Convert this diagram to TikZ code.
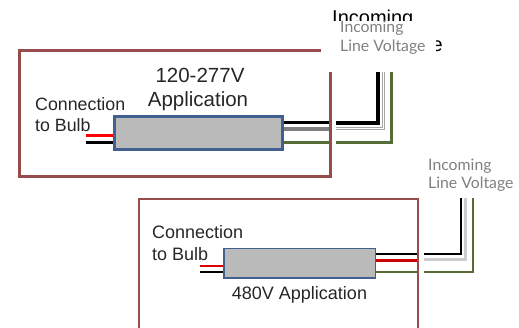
\documentclass[tikz,border=0pt]{standalone}
\usepackage{fontspec}
\setmainfont{Liberation Sans}
\newfontfamily\notefont{Lato}
\definecolor{framered}{HTML}{974B4B}
\definecolor{driverblue}{HTML}{41608F}
\definecolor{wiregreen}{HTML}{566B35}
\tikzset{
	frame/.style={draw=framered,line width=#1},
	driver/.style={draw=driverblue,fill=black!27,anchor=north west,inner sep=0pt},
	caption/.style={inner sep=0pt,align=left,text=black!85},
	note/.style={inner sep=0pt,anchor=west,text=black!50,font=\notefont\fontsize{15.8}{18}\selectfont},
}
\begin{document}
\begin{tikzpicture}[x=1pt,y=-1pt]
				\useasboundingbox (0,0) rectangle (519,328);
				% upper panel
				\node[inner sep=0pt,anchor=north west,font=\fontsize{20}{23}\selectfont] (IncomingA) at (332,10) {Incoming};
				\node[inner sep=0pt,anchor=east,font=\fontsize{20}{23}\selectfont] (LineA) at (443,46) {Line Voltage};
				\draw[frame=3pt] (19,51) rectangle (330,177);
				\fill[white] (321,21) rectangle (436,72);
				\node[note] (NoteA) at (340,28) {Incoming};
				\node[note] (NoteB) at (340,47) {Line Voltage};
				\node[driver,line width=3pt,minimum width=168pt,minimum height=33pt] (DriverA) at (113,115) {};
				\node[caption,font=\fontsize{20.5}{23}\selectfont] (TitleA) at (200,75) {120-277V};
				\node[caption,font=\fontsize{20.5}{23}\selectfont] (TitleB) at (198,101) {Application};
				\node[caption,anchor=west,font=\fontsize{17.8}{21}\selectfont] (BulbA) at (35,104) {Connection};
				\node[caption,anchor=west,font=\fontsize{17.8}{21}\selectfont] (BulbB) at (35,125) {to Bulb};
				\coordinate (R_1) at (86,136);
				\coordinate (K_1) at (86,143);
				\coordinate (K_2) at (329,123);
				\coordinate (K_3) at (336,123);
				\coordinate (K_4) at (378,72);
				\coordinate (W_2) at (329,129);
				\coordinate (W_3) at (336,127);
				\coordinate (W_4) at (382,72);
				\coordinate (W_5) at (336,129.5);
				\coordinate (W_6) at (384.5,72);
				\coordinate (G_2) at (329,143);
				\coordinate (G_3) at (336,143);
				\coordinate (G_4) at (391,72);
				\draw[red,line width=3pt] (R_1) -- (R_1 -| DriverA.west);
				\draw[line width=3pt] (K_1) -- (K_1 -| DriverA.west);
				\draw[line width=3pt] (K_2 -| DriverA.east) -- (K_2);
				\draw[black!50,line width=3.5pt] (W_2 -| DriverA.east) -- (W_2);
				\draw[wiregreen,line width=3pt] (G_2 -| DriverA.east) -- (G_2);
				\draw[line width=3.5pt] (K_3) -| (K_4);
				\draw[black!35,line width=.7pt] (W_3) -| (W_4);
				\draw[black!35,line width=.7pt] (W_5) -| (W_6);
				\draw[wiregreen,line width=3pt] (G_3) -| (G_4);
				% lower panel
				\draw[frame=2pt] (139,328) |- (418,199) -- (418,328);
				\node[driver,line width=1.5pt,minimum width=151.5pt,minimum height=29.5pt] (DriverB) at (223,248) {};
				\node[caption,anchor=west,font=\fontsize{18}{21}\selectfont] (BulbC) at (152,232) {Connection};
				\node[caption,anchor=west,font=\fontsize{18}{21}\selectfont] (BulbD) at (152,254) {to Bulb};
				\node[caption,font=\fontsize{18}{21}\selectfont] (TitleC) at (299.5,295) {480V Application};
				\node[note] (NoteC) at (428,166) {Incoming};
				\node[note] (NoteD) at (428,184) {Line Voltage};
				\coordinate (R_5) at (200,266);
				\coordinate (K_5) at (200,272);
				\coordinate (K_6) at (417,254);
				\coordinate (K_7) at (424,254);
				\coordinate (K_8) at (461,198);
				\coordinate (R_6) at (417,261);
				\coordinate (W_7) at (424,260);
				\coordinate (W_8) at (465,198);
				\coordinate (G_6) at (417,272);
				\coordinate (G_7) at (424,272);
				\coordinate (G_8) at (473,198);
				\draw[red!85!black,line width=2pt] (R_5) -- (R_5 -| DriverB.west);
				\draw[line width=2.5pt] (K_5) -- (K_5 -| DriverB.west);
				\draw[line width=2.5pt] (K_6 -| DriverB.east) -- (K_6);
				\draw[red!80!black,line width=3pt] (R_6 -| DriverB.east) -- (R_6);
				\draw[wiregreen,line width=2.5pt] (G_6 -| DriverB.east) -- (G_6);
				\draw[line width=2.5pt] (K_7) -| (K_8);
				\draw[black!20,line width=3pt] (W_7) -| (W_8);
				\draw[wiregreen,line width=2.5pt] (G_7) -| (G_8);
				\end{tikzpicture}
\end{document}
